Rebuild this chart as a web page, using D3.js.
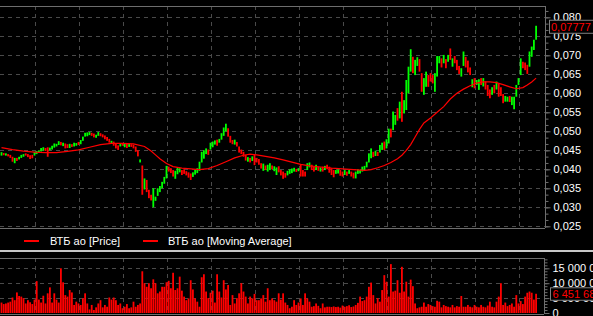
<!DOCTYPE html>
<html><head><meta charset="utf-8">
<script src="https://cdn.jsdelivr.net/npm/d3@7"></script>
<style>html,body{margin:0;padding:0;background:#000;}svg{display:block;}</style>
</head><body>
<script>
// ---- data ----
const seriesNames = ["ВТБ ао [Price]", "ВТБ ао [Moving Average]"];
const priceTicks = [0.025,0.030,0.035,0.040,0.045,0.050,0.055,0.060,0.065,0.070,0.075,0.080];
const volumeTicks = [0, 5, 10, 15];            // millions
const volumeTickLabels = ["0", "5 000 000", "10 000 000", "15 000 000"];
const lastPriceLabel = "0,07777";
const lastVolumeLabel = "6 451 687";
const gridBars = [15,35,55,75,95,115,135,155,175,195,215,235];

const priceOpen = [
.0436,.0443,.0436,.0440,.0438,.0433,.0416,.0430,.0426,.0430,
.0433,.0442,.0440,.0437,.0438,.0436,.0440,.0443,.0447,.0449,
.0456,.0458,.0450,.0452,.0457,.0460,.0464,.0472,.0461,.0468,
.0466,.0456,.0466,.0460,.0462,.0472,.0466,.0475,.0486,.0487,
.0490,.0496,.0494,.0483,.0488,.0495,.0492,.0489,.0485,.0480,
.0469,.0473,.0467,.0463,.0460,.0469,.0458,.0467,.0459,.0466,
.0465,.0460,.0450,.0418,.0410,.0347,.0372,.0346,.0333,.0300,
.0317,.0330,.0340,.0350,.0362,.0376,.0407,.0403,.0398,.0375,
.0387,.0392,.0398,.0400,.0395,.0392,.0389,.0380,.0386,.0390,
.0396,.0418,.0428,.0440,.0452,.0452,.0458,.0465,.0478,.0470,
.0478,.0488,.0500,.0508,.0488,.0477,.0465,.0472,.0460,.0452,
.0446,.0438,.0420,.0430,.0422,.0438,.0430,.0427,.0416,.0396,
.0410,.0394,.0398,.0410,.0395,.0385,.0408,.0398,.0394,.0390,
.0384,.0388,.0390,.0394,.0401,.0395,.0412,.0398,.0394,.0398,
.0405,.0412,.0407,.0398,.0407,.0394,.0407,.0398,.0412,.0407,
.0403,.0398,.0388,.0389,.0398,.0394,.0385,.0394,.0388,.0394,
.0391,.0376,.0388,.0389,.0394,.0398,.0405,.0418,.0429,.0446,
.0435,.0446,.0444,.0451,.0473,.0455,.0468,.0507,.0503,.0517,
.0561,.0534,.0604,.0547,.0556,.0600,.0657,.0696,.0648,.0672,
.0690,.0653,.0596,.0617,.0648,.0653,.0648,.0604,.0644,.0679,
.0692,.0679,.0690,.0683,.0718,.0670,.0698,.0688,.0672,.0644,
.0672,.0696,.0686,.0668,.0616,.0640,.0622,.0609,.0640,.0618,
.0631,.0622,.0610,.0596,.0622,.0610,.0626,.0616,.0598,.0578,
.0578,.0593,.0569,.0558,.0591,.0622,.0648,.0683,.0681,.0675,
.0670,.0696,.0714,.0741];

const priceClose = [
.0445,.0437,.0442,.0434,.0430,.0420,.0430,.0422,.0433,.0438,
.0440,.0436,.0432,.0427,.0429,.0446,.0448,.0450,.0456,.0458,
.0448,.0433,.0457,.0462,.0468,.0467,.0474,.0463,.0470,.0455,
.0456,.0467,.0459,.0470,.0469,.0464,.0477,.0486,.0496,.0497,
.0498,.0488,.0484,.0491,.0498,.0487,.0484,.0479,.0475,.0470,
.0475,.0462,.0455,.0451,.0468,.0462,.0467,.0456,.0468,.0459,
.0455,.0446,.0434,.0426,.0333,.0376,.0340,.0324,.0318,.0350,
.0328,.0350,.0356,.0367,.0380,.0409,.0394,.0390,.0381,.0396,
.0405,.0403,.0385,.0388,.0384,.0378,.0372,.0392,.0399,.0403,
.0420,.0446,.0450,.0455,.0438,.0470,.0473,.0476,.0462,.0480,
.0495,.0510,.0520,.0486,.0470,.0466,.0478,.0460,.0444,.0440,
.0433,.0423,.0432,.0418,.0434,.0411,.0418,.0412,.0402,.0415,
.0398,.0412,.0416,.0400,.0408,.0405,.0392,.0384,.0375,.0378,
.0396,.0400,.0402,.0404,.0393,.0403,.0381,.0381,.0381,.0416,
.0418,.0398,.0394,.0412,.0396,.0405,.0394,.0409,.0400,.0391,
.0385,.0379,.0398,.0400,.0383,.0381,.0398,.0383,.0398,.0381,
.0376,.0394,.0400,.0398,.0407,.0409,.0420,.0442,.0455,.0432,
.0449,.0435,.0464,.0470,.0451,.0479,.0507,.0484,.0552,.0543,
.0528,.0578,.0525,.0582,.0635,.0670,.0716,.0653,.0688,.0695,
.0657,.0604,.0640,.0657,.0617,.0631,.0626,.0653,.0698,.0698,
.0668,.0701,.0666,.0701,.0688,.0692,.0679,.0661,.0651,.0666,
.0710,.0668,.0655,.0648,.0637,.0613,.0635,.0637,.0622,.0640,
.0610,.0593,.0587,.0616,.0600,.0631,.0591,.0593,.0574,.0593,
.0591,.0577,.0591,.0591,.0622,.0640,.0692,.0666,.0661,.0651,
.0710,.0723,.0741,.07777];

const maIndex = [0,5,10,15,20,25,30,35,40,45,50,55,60,65,68,70,72,75,78,82,86,90,94,98,102,106,110,113,116,120,124,128,132,136,140,145,150,155,160,165,168,171,174,177,180,182,184,186,188,190,192,195,198,201,204,207,210,213,216,219,222,225,228,231,234,237,239,241,243];
const maValue = [.0457,.0452,.0448,.0445,.0444,.0444,.0447,.0451,.0458,.0465,.0468,.0468,.0467,.0460,.0448,.0438,.0428,.0415,.0407,.0403,.0401,.0399,.0402,.0410,.0420,.0430,.0437,.0440,.0438,.0434,.0430,.0425,.0419,.0413,.0409,.0406,.0403,.0401,.0399,.0397,.0399,.0404,.0410,.0418,.0428,.0437,.0450,.0465,.0485,.0505,.0522,.0535,.0550,.0565,.0585,.0600,.0611,.0620,.0627,.0630,.0630,.0628,.0623,.0617,.0612,.0615,.0622,.0630,.0640];

const volume = [ // millions
3.5,3.0,3.2,3.5,3.8,5.2,4.3,6.9,5.7,5.5,
5.0,3.2,4.3,3.6,3.0,4.5,10.7,4.5,3.5,5.8,
3.2,6.6,8.6,3.5,6.6,4.5,3.5,15.0,10.3,6.0,
5.5,7.7,6.9,2.7,3.8,3.2,2.7,4.9,6.6,3.2,
1.2,2.7,1.0,1.9,3.2,4.3,1.9,2.7,2.1,5.2,
4.5,5.2,4.3,2.7,3.2,1.6,2.1,3.0,1.6,1.9,
3.8,2.1,2.7,3.2,14.0,10.0,8.8,10.0,8.3,11.3,
10.0,6.6,7.2,8.8,8.8,10.3,10.8,8.3,13.5,7.7,
8.3,12.2,7.5,5.5,4.3,4.9,11.0,7.9,4.9,3.8,
2.1,12.0,13.0,7.2,5.0,6.8,7.5,3.5,13.0,7.2,
5.2,11.0,7.9,9.4,2.7,6.0,3.2,5.0,6.6,10.0,
7.2,5.5,3.2,5.5,4.9,6.4,4.3,4.3,4.9,6.0,
3.8,8.3,4.3,4.9,4.3,3.8,6.6,4.5,6.6,3.5,
2.7,1.6,2.1,4.3,2.7,3.5,4.9,2.7,6.6,4.9,
3.8,2.1,2.3,3.2,2.4,1.6,3.2,1.9,2.1,2.1,
2.0,2.2,2.0,2.1,1.8,2.5,2.1,2.3,2.6,2.0,
2.2,2.7,3.4,5.5,4.0,4.3,5.5,8.8,10.2,6.0,
3.2,5.0,3.8,7.7,12.7,10.5,5.5,16.4,7.2,7.5,
11.0,6.8,15.5,7.2,10.5,5.5,11.2,9.0,3.2,1.6,
1.9,2.1,3.5,2.1,3.0,2.7,2.3,2.1,4.1,3.8,
1.9,2.7,2.3,2.1,1.9,2.7,1.9,2.3,2.1,5.7,
2.1,2.1,2.7,2.1,1.9,2.7,2.1,1.9,2.7,2.1,
1.9,2.5,3.8,2.1,1.9,3.8,5.5,10.0,2.7,3.5,
2.3,2.7,3.2,2.1,6.0,3.2,4.0,3.0,5.5,6.8,
7.2,6.8,4.5,6.45168];

// ---- drawing ----
const W = 593, H = 316;
const svg = d3.select("body").append("svg").attr("width", W).attr("height", H)
  .style("font-family", "'Liberation Sans', Arial, sans-serif").style("font-size", "11px");
svg.append("rect").attr("width", W).attr("height", H).attr("fill", "#000");

const main = {left: 0, right: 545, top: 6, bottom: 228};
const vol = {left: 0, right: 544, top: 258, bottom: 314};
const gridColor = "#4a4a4a", frameColor = "#6e6e6e";

const x = d3.scaleLinear().domain([0, priceOpen.length - 1]).range([1.5, 536.1]);
const y = d3.scaleLinear().domain([0.025, 0.080]).range([226.3, 17.3]);
const yv = d3.scaleLinear().domain([0, 15]).range([313, 268.3]);
const fmt = v => d3.format(".3f")(v).replace(".", ",");

// main panel grid
const gMain = svg.append("g");
gMain.selectAll("line.hg").data(priceTicks).join("line")
  .attr("x1", main.left).attr("x2", main.right)
  .attr("y1", d => Math.round(y(d)) + 0.5).attr("y2", d => Math.round(y(d)) + 0.5)
  .attr("stroke", gridColor).attr("stroke-dasharray", "4,4");
gMain.selectAll("line.vg").data(gridBars).join("line")
  .attr("x1", d => Math.round(x(d)) + 0.5).attr("x2", d => Math.round(x(d)) + 0.5)
  .attr("y1", main.top).attr("y2", main.bottom)
  .attr("stroke", gridColor).attr("stroke-dasharray", "4,4");

// price bars
const bars = d3.range(priceOpen.length);
gMain.selectAll("rect.bar").data(bars).join("rect")
  .attr("x", i => x(i) - 0.9).attr("width", 1.8)
  .attr("y", i => y(Math.max(priceOpen[i], priceClose[i])))
  .attr("height", i => Math.max(1, Math.abs(y(priceOpen[i]) - y(priceClose[i]))))
  .attr("fill", i => priceClose[i] >= priceOpen[i] ? "#00ff00" : "#ff0000");

// moving average
const maLine = d3.line().x(d => x(d[0])).y(d => y(d[1]));
gMain.append("path").datum(maIndex.map((d, k) => [d, maValue[k]]))
  .attr("d", maLine).attr("fill", "none").attr("stroke", "#ff0000").attr("stroke-width", 1.2);

// main frame
svg.append("line").attr("x1", 0).attr("x2", main.right).attr("y1", main.top + 0.5).attr("y2", main.top + 0.5).attr("stroke", frameColor);
svg.append("line").attr("x1", 0).attr("x2", main.right).attr("y1", main.bottom + 0.5).attr("y2", main.bottom + 0.5).attr("stroke", frameColor);

// price axis
const minorTicks = d3.range(0.025, 0.0831, 0.005 / 3);
const axMinor = d3.axisRight(y).tickValues(minorTicks).tickSize(3).tickFormat("");
const gMinor = svg.append("g").attr("transform", `translate(${main.right + 0.5},0)`).call(axMinor);
gMinor.select(".domain").attr("d", `M0,${main.top}V${main.bottom}`);
const axMain = d3.axisRight(y).tickValues(priceTicks).tickSize(5).tickPadding(3).tickFormat(fmt);
const gAx = svg.append("g").attr("transform", `translate(${main.right + 0.5},0)`).call(axMain);
gAx.select(".domain").remove();
svg.selectAll(".tick line, .domain").attr("stroke", frameColor);
gAx.selectAll("text").attr("fill", "#fff").attr("font-size", "11px").attr("font-family", "'Liberation Sans', Arial, sans-serif");

// last price label box
const lpY = y(priceClose[priceClose.length - 1]);
svg.append("rect").attr("x", 549.5).attr("y", lpY - 5.5).attr("width", 50).attr("height", 13)
  .attr("fill", "#000").attr("stroke", "#808080");
svg.append("text").attr("x", 551).attr("y", lpY + 5.5).attr("fill", "#ff0000").text(lastPriceLabel);

// legend
const legend = svg.append("g");
const legX = [24, 143];
const legTX = [50, 168];
seriesNames.forEach((n, k) => {
  legend.append("line").attr("x1", legX[k]).attr("x2", legX[k] + 15).attr("y1", 241).attr("y2", 241)
    .attr("stroke", "#ff0000").attr("stroke-width", 2);
  legend.append("text").attr("x", legTX[k]).attr("y", 245).attr("fill", "#fff").text(n);
});
svg.append("rect").attr("x", 0).attr("y", 250).attr("width", W).attr("height", 2).attr("fill", "#c8c8c8");

// volume panel
const gVol = svg.append("g");
gVol.selectAll("line.hg").data(volumeTicks.slice(1)).join("line")
  .attr("x1", vol.left).attr("x2", vol.right)
  .attr("y1", d => Math.round(yv(d)) + 0.5).attr("y2", d => Math.round(yv(d)) + 0.5)
  .attr("stroke", gridColor).attr("stroke-dasharray", "4,4");
gVol.selectAll("line.vg").data(gridBars).join("line")
  .attr("x1", d => Math.round(x(d)) + 0.5).attr("x2", d => Math.round(x(d)) + 0.5)
  .attr("y1", vol.top).attr("y2", vol.bottom)
  .attr("stroke", gridColor).attr("stroke-dasharray", "4,4");
gVol.selectAll("rect.vb").data(bars).join("rect")
  .attr("x", i => x(i) - 0.9).attr("width", 1.8)
  .attr("y", i => yv(volume[i])).attr("height", i => yv(0) - yv(volume[i]))
  .attr("fill", "#ff0000");
svg.append("line").attr("x1", 0).attr("x2", vol.right).attr("y1", vol.top + 0.5).attr("y2", vol.top + 0.5).attr("stroke", frameColor);
svg.append("line").attr("x1", 0).attr("x2", vol.right).attr("y1", vol.bottom + 0.5).attr("y2", vol.bottom + 0.5).attr("stroke", frameColor);

const vMinor = d3.axisRight(yv).tickValues(d3.range(0, 18.1, 1)).tickSize(3).tickFormat("");
const gvMinor = svg.append("g").attr("transform", `translate(${vol.right + 0.5},0)`).call(vMinor);
gvMinor.select(".domain").attr("d", `M0,${vol.top}V${vol.bottom}`);
const vAx = d3.axisRight(yv).tickValues(volumeTicks).tickSize(5).tickPadding(3)
  .tickFormat((d, k) => volumeTickLabels[k]);
const gvAx = svg.append("g").attr("transform", `translate(${vol.right + 0.5},0)`).call(vAx);
gvAx.select(".domain").remove();
svg.selectAll(".tick line, .domain").attr("stroke", frameColor);
gvAx.selectAll("text").attr("fill", "#fff").attr("font-size", "11px").attr("font-family", "'Liberation Sans', Arial, sans-serif");

const lvY = yv(volume[volume.length - 1]);
svg.append("rect").attr("x", 550.5).attr("y", lvY - 6).attr("width", 50).attr("height", 12.5)
  .attr("fill", "#000").attr("stroke", "#808080");
svg.append("text").attr("x", 552.5).attr("y", lvY + 4.5).attr("fill", "#ff0000").text(lastVolumeLabel);
</script>
</body></html>
